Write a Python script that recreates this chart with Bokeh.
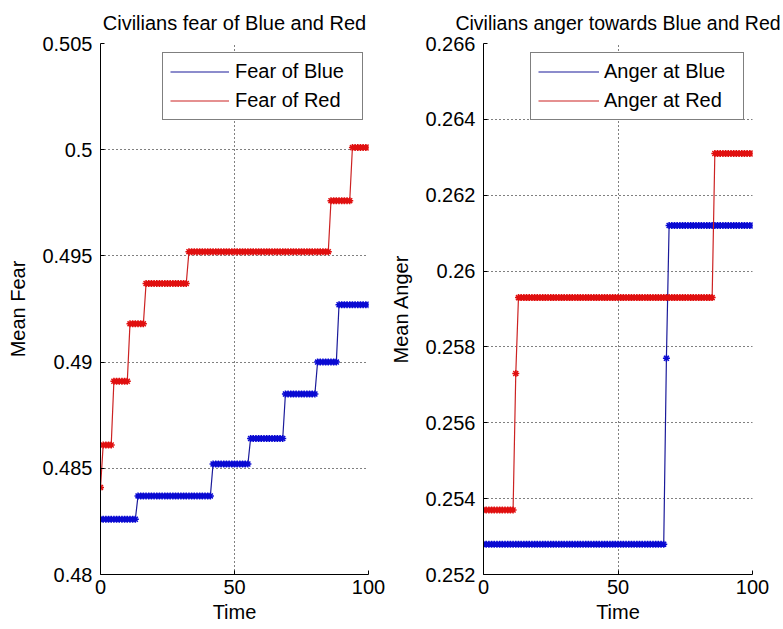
from bokeh.plotting import figure
from bokeh.models import FixedTicker, Range1d, Legend, LegendItem
from bokeh.layouts import row
from bokeh.embed import file_html
from bokeh.resources import INLINE

# ---- data ----
time = list(range(0, 101))

fear_blue = ([0.4826] * 14 + [0.4837] * 28 + [0.4852] * 14 + [0.4864] * 13
             + [0.4885] * 12 + [0.4900] * 8 + [0.4927] * 12)
fear_red = ([0.4841] * 1 + [0.4861] * 4 + [0.4891] * 6 + [0.4918] * 6
            + [0.4937] * 16 + [0.4952] * 53 + [0.4976] * 8 + [0.5001] * 7)
anger_blue = [0.2528] * 68 + [0.2577] * 1 + [0.2612] * 32
anger_red = [0.2537] * 12 + [0.2573] * 1 + [0.2593] * 73 + [0.2631] * 15

x_ticks = [0, 50, 100]
x_labels = ["0", "50", "100"]
fear_ticks = [0.48, 0.485, 0.49, 0.495, 0.5, 0.505]
fear_labels = ["0.48", "0.485", "0.49", "0.495", "0.5", "0.505"]
anger_ticks = [0.252, 0.254, 0.256, 0.258, 0.26, 0.262, 0.264, 0.266]
anger_labels = ["0.252", "0.254", "0.256", "0.258", "0.26", "0.262", "0.264", "0.266"]

FONT = "Liberation Sans"
BLUE_LINE = "#1a1a9a"
RED_LINE = "#cc2222"
BLUE_MK = "#0a0ad2"
RED_MK = "#e01010"


def make_panel(title, title_size, ylabel, y_rng, yticks, ylabels, series, width,
               bl, br, legend_x, label_w, glyph_w, standoff):
    p = figure(width=width, height=628, output_backend="svg", toolbar_location=None,
               x_range=Range1d(0, 100), y_range=Range1d(*y_rng),
               min_border_left=bl, min_border_right=br,
               min_border_top=43, min_border_bottom=54,
               background_fill_color="white", border_fill_color="white")
    p.outline_line_color = None
    p.title.text = title
    p.title.text_font = FONT
    p.title.text_font_size = title_size
    p.title.text_font_style = "normal"
    p.title.text_color = "black"
    p.title.align = "center"
    p.title.standoff = 19

    p.xaxis.ticker = FixedTicker(ticks=x_ticks)
    p.xaxis.major_label_overrides = dict(zip(x_ticks, x_labels))
    p.yaxis.ticker = FixedTicker(ticks=yticks)
    p.yaxis.major_label_overrides = dict(zip(yticks, ylabels))
    p.xaxis.axis_label = "Time"
    p.yaxis.axis_label = ylabel
    for ax in (p.xaxis[0], p.yaxis[0]):
        ax.axis_line_color = "black"
        ax.axis_line_width = 1
        ax.major_tick_in = 4
        ax.major_tick_out = 0
        ax.minor_tick_line_color = None
        ax.major_tick_line_color = "black"
        ax.major_label_text_font = FONT
        ax.major_label_text_font_size = "20px"
        ax.major_label_text_color = "black"
        ax.axis_label_text_font = FONT
        ax.axis_label_text_font_size = "20px"
        ax.axis_label_text_font_style = "normal"
        ax.axis_label_text_color = "black"
    p.xaxis.major_label_standoff = 5
    p.xaxis.axis_label_standoff = 4
    p.yaxis.major_label_standoff = 8
    p.yaxis.axis_label_standoff = 10

    for g in (p.xgrid[0], p.ygrid[0]):
        g.grid_line_color = "black"
        g.grid_line_dash = "1 3"
        g.grid_line_width = 1
        g.grid_line_alpha = 1.0

    items = []
    for label, ys, lc, mc in series:
        r = p.line(time, ys, line_color=lc, line_width=1.2)
        p.scatter(time, ys, marker="asterisk", size=7, line_color=mc, line_width=1.5)
        items.append(LegendItem(label=label, renderers=[r]))

    leg = Legend(items=items, location=(legend_x, 454))
    leg.border_line_color = "black"
    leg.border_line_width = 1
    leg.background_fill_color = "white"
    leg.background_fill_alpha = 1
    leg.label_text_font = FONT
    leg.label_text_font_size = "20px"
    leg.label_text_color = "black"
    leg.glyph_width = glyph_w
    leg.glyph_height = 23
    leg.label_height = 23
    leg.label_width = label_w
    leg.label_standoff = standoff
    leg.padding = 7
    leg.spacing = 6
    leg.margin = 0
    p.add_layout(leg)
    return p


p1 = make_panel("Civilians fear of Blue and Red", "20px", "Mean Fear", (0.48, 0.505),
                fear_ticks, fear_labels,
                [("Fear of Blue", fear_blue, BLUE_LINE, BLUE_MK),
                 ("Fear of Red", fear_red, RED_LINE, RED_MK)],
                385, 100, 17, 62, 120, 59, 6)
p2 = make_panel("Civilians anger towards Blue and Red", "19.5px", "Mean Anger", (0.252, 0.266),
                anger_ticks, anger_labels,
                [("Anger at Blue", anger_blue, BLUE_LINE, BLUE_MK),
                 ("Anger at Red", anger_red, RED_LINE, RED_MK)],
                397, 98, 30, 47, 132, 61, 5)

layout = row(p1, p2)
open("out.html", "w").write(file_html(layout, INLINE))
